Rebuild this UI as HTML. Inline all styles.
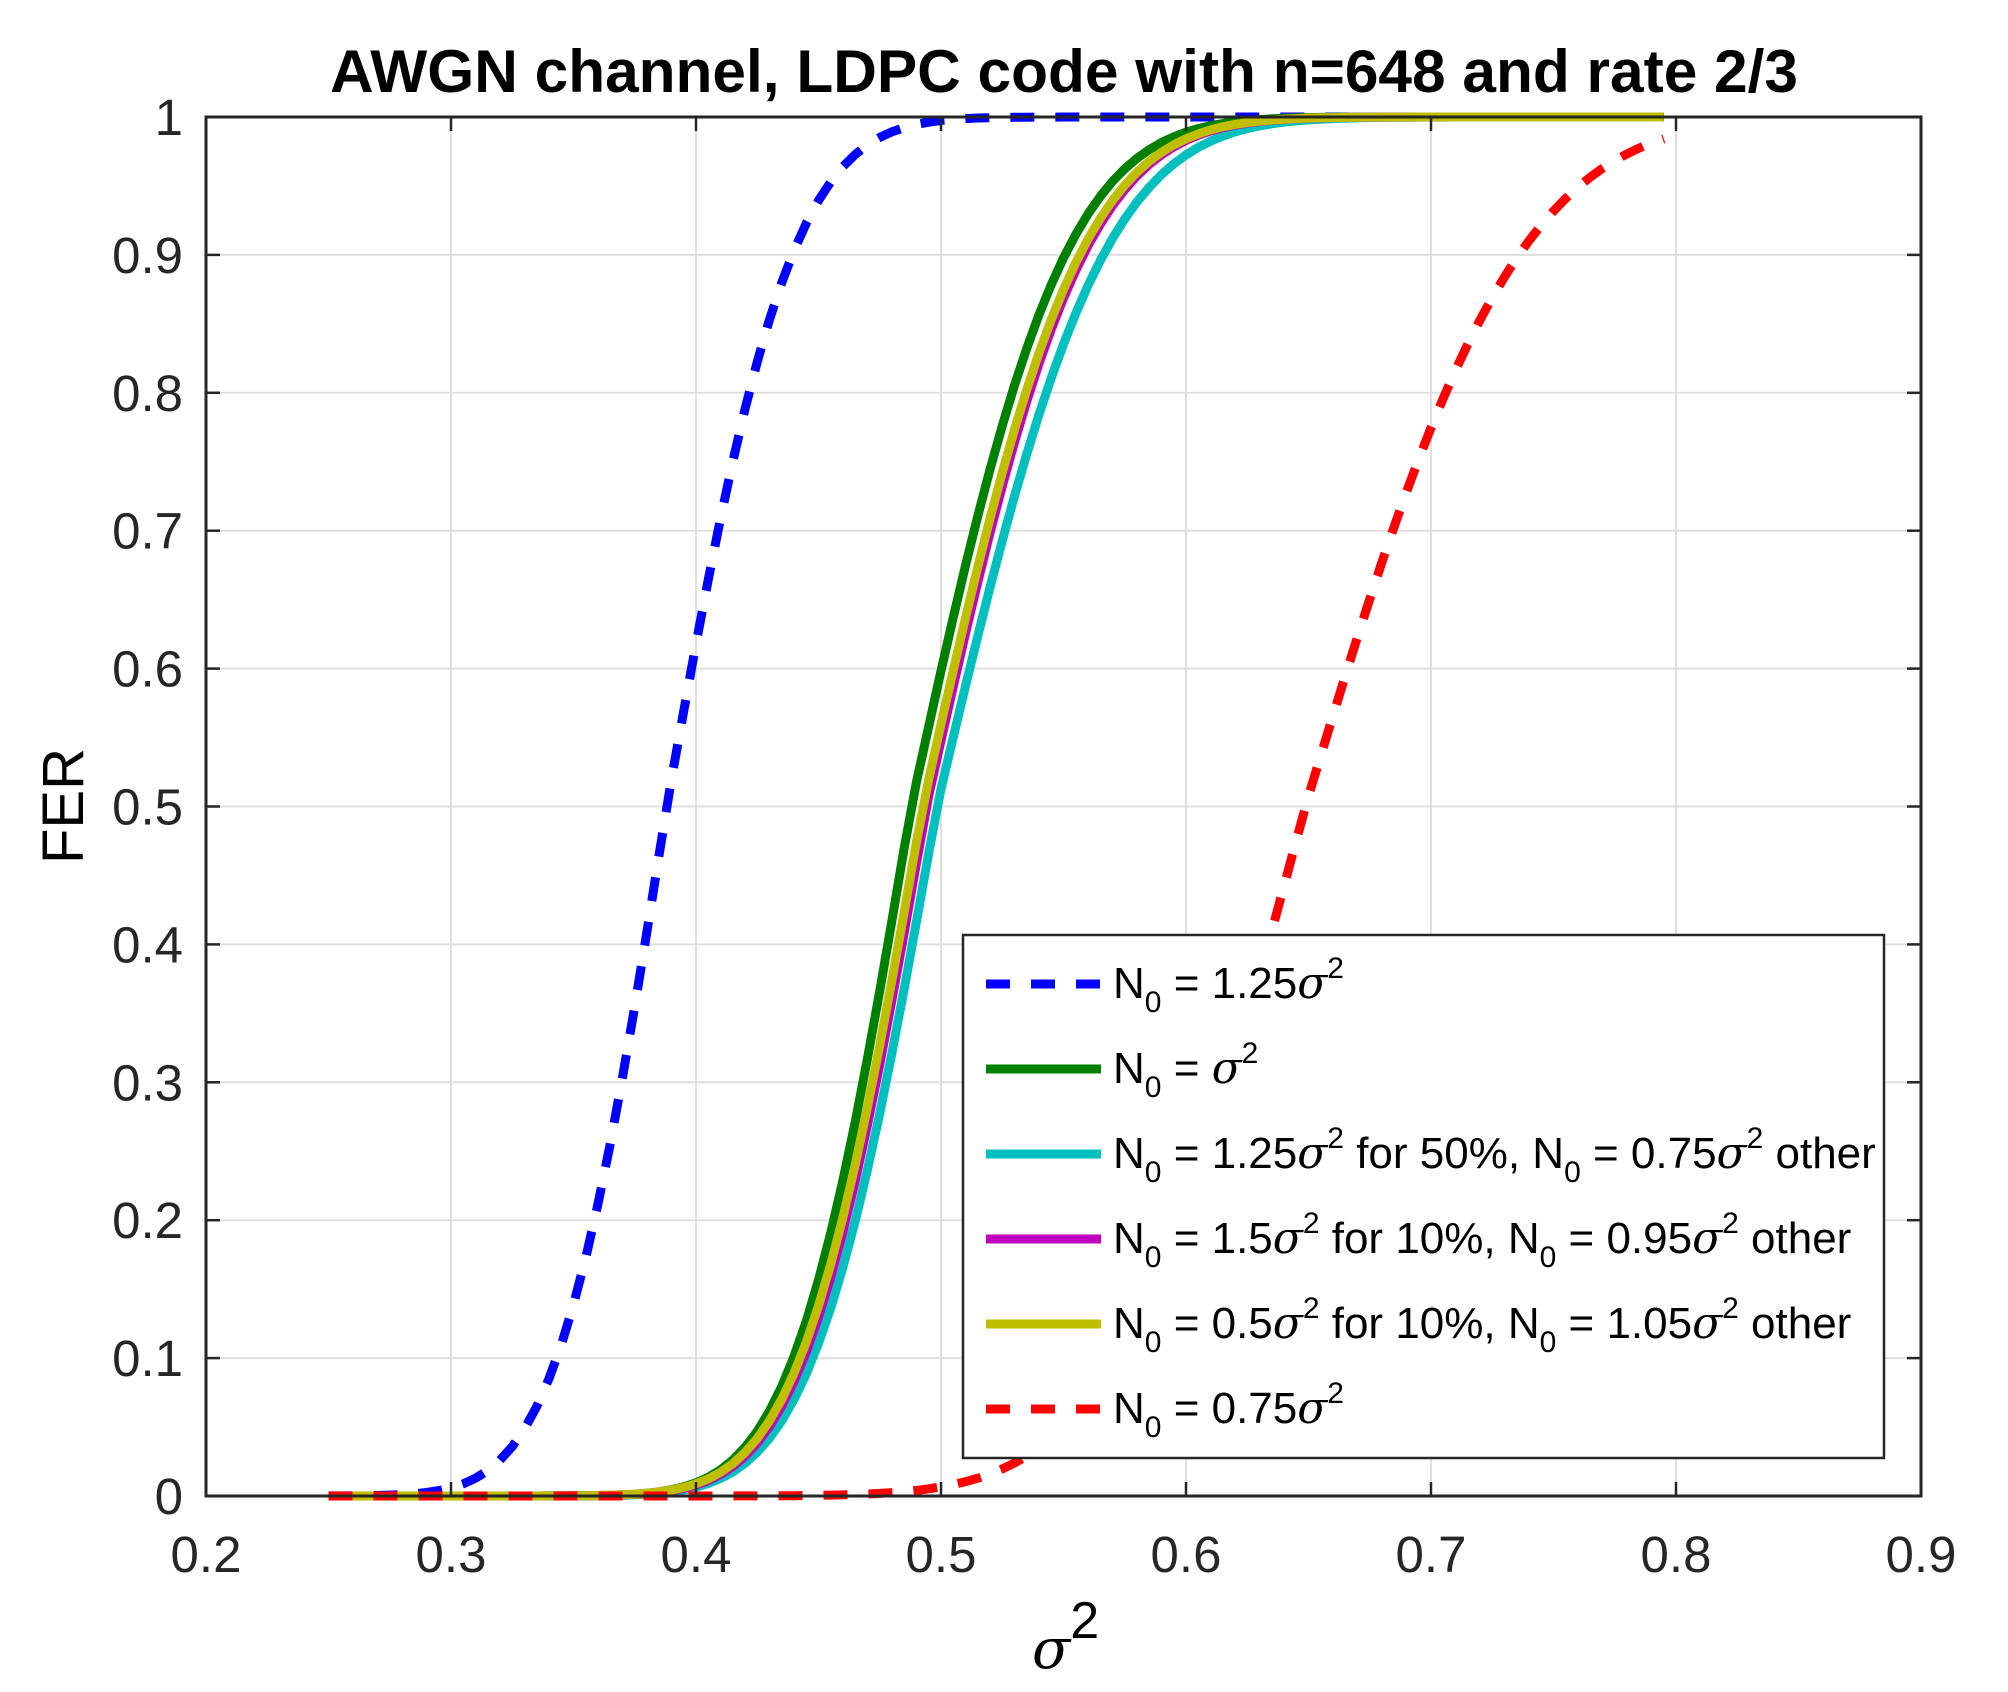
<!DOCTYPE html>
<html><head><meta charset="utf-8"><style>
html,body{margin:0;padding:0;background:#fff;}
svg{display:block;}
text{font-family:"Liberation Sans",sans-serif;fill:#262626;}
</style></head><body>
<svg id="s" width="2008" height="1692" viewBox="0 0 2008 1692" xmlns="http://www.w3.org/2000/svg">
<rect width="2008" height="1692" fill="#fff"/>
<g id="grid" stroke="#dfdfdf" stroke-width="2"></g>
<g id="curves" fill="none" stroke-width="9" stroke-linejoin="round"></g>
<rect x="206" y="117" width="1715" height="1379" fill="none" stroke="#262626" stroke-width="3"/>
<g id="ticks" stroke="#262626" stroke-width="2.5"></g>
<g id="labels" font-size="51"></g>
<text x="1064" y="92" text-anchor="middle" font-size="60" font-weight="bold" fill="#000" style="fill:#000" textLength="1468" lengthAdjust="spacingAndGlyphs">AWGN channel, LDPC code with n=648 and rate 2/3</text>
<text transform="translate(83,806) rotate(-90)" text-anchor="middle" font-size="58" style="fill:#000">FER</text>
<text x="1032" y="1668" font-size="56" style="fill:#000"><tspan font-family="DejaVu Serif" font-style="italic">σ</tspan><tspan dy="-30" font-size="52">2</tspan></text>
<g id="legend">
<rect x="963" y="935" width="921" height="523" fill="#fff" stroke="#262626" stroke-width="2.5"/>
</g>
</svg>
<script>
const NS="http://www.w3.org/2000/svg";
const X=v=>206+(v-0.2)/0.7*1715, Y=v=>1496-v*1379;
function el(tag,attrs,parent,txt){const e=document.createElementNS(NS,tag);for(const k in attrs)e.setAttribute(k,attrs[k]);if(txt!==undefined)e.textContent=txt;parent.appendChild(e);return e;}
const grid=document.getElementById('grid'),ticks=document.getElementById('ticks'),labels=document.getElementById('labels');
for(let i=3;i<=8;i++){const x=X(i/10);el('line',{x1:x,y1:117,x2:x,y2:1496},grid);}
for(let i=1;i<=9;i++){const y=Y(i/10);el('line',{x1:206,y1:y,x2:1921,y2:y},grid);}
for(let i=2;i<=9;i++){const x=X(i/10);
 el('line',{x1:x,y1:1496,x2:x,y2:1482},ticks);el('line',{x1:x,y1:117,x2:x,y2:131},ticks);
 el('text',{x:x,y:1572,'text-anchor':'middle'},labels,(i/10).toFixed(1));}
for(let i=0;i<=10;i++){const y=Y(i/10);
 el('line',{x1:206,y1:y,x2:220,y2:y},ticks);el('line',{x1:1921,y1:y,x2:1907,y2:y},ticks);
 el('text',{x:183,y:y+18,'text-anchor':'end'},labels,i==0?'0':i==10?'1':(i/10).toFixed(1));}
function erf(x){const s=x<0?-1:1;x=Math.abs(x);const t=1/(1+0.3275911*x);const y=1-(((((1.061405429*t-1.453152027)*t)+1.421413741)*t-0.284496736)*t+0.254829592)*t*Math.exp(-x*x);return s*y;}
function Phi(z){return 0.5*(1+erf(z/Math.SQRT2));}
const series=[
 {c:'#0000ff',mu:0.388,sl:0.035,sr:0.04,dash:true},
 {c:'#008000',mu:0.4878,sl:0.0375,sr:0.049},
 {c:'#00bfbf',mu:0.4983,sl:0.0395,sr:0.053},
 {c:'#bf00bf',mu:0.494,sl:0.039,sr:0.05},
 {c:'#bfbf00',mu:0.4925,sl:0.039,sr:0.05},
 {c:'#ff0000',mu:0.6487,sl:0.06,sr:0.068,dash:true}
];
const cg=document.getElementById('curves');
series.forEach(s=>{let d='';for(let x=0.25;x<=0.7951;x+=0.005){const z=(x-s.mu)/(x<s.mu?s.sl:s.sr);const v=Phi(z);d+=(d?'L':'M')+X(x).toFixed(1)+','+Y(v).toFixed(1);}
 const a={d:d,stroke:s.c};if(s.dash)a['stroke-dasharray']='24 21';el('path',a,cg);});
const lg=document.getElementById('legend');
const rows=[
 ['#0000ff',true,[['1.25','']]],
 ['#008000',false,[['','']]],
 ['#00bfbf',false,[['1.25',' for 50%, N'],['0.75',' other']]],
 ['#bf00bf',false,[['1.5',' for 10%, N'],['0.95',' other']]],
 ['#bfbf00',false,[['0.5',' for 10%, N'],['1.05',' other']]],
 ['#ff0000',true,[['0.75','']]]
];
rows.forEach((r,i)=>{const y=984+85*i;
 const a={x1:986,y1:y,x2:1101,y2:y,stroke:r[0],'stroke-width':9};if(r[1])a['stroke-dasharray']='24 21';el('line',a,lg);
 const t=el('text',{x:1113,y:y+14,'font-size':44,style:'fill:#000'},lg);
 el('tspan',{},t,'N');
 r[2].forEach((p,j)=>{
  el('tspan',{dy:14,'font-size':30},t,'0');
  el('tspan',{dy:-14},t,' = '+p[0]);
  el('tspan',{'font-family':'DejaVu Serif','font-style':'italic'},t,'σ');
  el('tspan',{dy:-20,'font-size':30},t,'2');
  el('tspan',{dy:20},t,p[1]);
 });
});
</script>
</body></html>
